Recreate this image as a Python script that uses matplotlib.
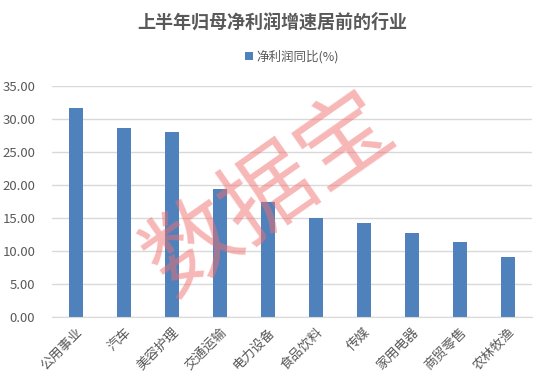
import matplotlib.pyplot as plt
import numpy as np

plt.rcParams['font.family'] = ['Noto Sans CJK SC', 'DejaVu Sans']

# data
industries = ['公用事业', '汽车', '美容护理', '交通运输', '电力设备',
              '食品饮料', '传媒', '家用电器', '商贸零售', '农林牧渔']
growth = [31.6, 28.7, 28.1, 19.4, 17.4, 15.0, 14.2, 12.7, 11.4, 9.1]
series_name = '净利润同比(%)'
title = '上半年归母净利润增速居前的行业'

grey = '#595959'
bar_color = '#4f81bd'

fig = plt.figure(figsize=(5.45, 3.8), dpi=100)
ax = fig.add_axes([52 / 545, 1 - 317 / 380, 480 / 545, 231 / 380])

x = np.arange(len(industries))
ax.bar(x, growth, width=0.31, color=bar_color, label=series_name, zorder=2)

ax.set_xlim(-0.5, len(industries) - 0.5)
ax.set_ylim(0, 35)
ax.set_yticks(np.arange(0, 35.1, 5))
ax.set_yticklabels(['%.2f' % v for v in np.arange(0, 35.1, 5)])
ax.set_xticks(x)
ax.set_xticklabels(industries, rotation=45, ha='right', rotation_mode='anchor')
ax.tick_params(axis='both', length=0, colors=grey, labelsize=9.5)
ax.tick_params(axis='y', pad=12)
ax.tick_params(axis='x', pad=6)

ax.grid(axis='y', color='#d9d9d9', linewidth=1, zorder=0)
for s in ['top', 'right', 'left']:
    ax.spines[s].set_visible(False)
ax.spines['bottom'].set_color('#d9d9d9')

fig.text(0.5, 1 - 22 / 380, title, ha='center', va='center',
         fontsize=13, fontweight='bold', color=grey)
ax.legend(loc='center', bbox_to_anchor=(0.5, (57 - 86) / -231 + 1),
          frameon=False, fontsize=9, labelcolor=grey, handlelength=0.6,
          handleheight=0.6, handletextpad=0.3)

# watermark
fig.text(270 / 545, 1 - 195 / 380, '数据宝', ha='center', va='center',
         fontsize=67, fontweight='medium', color='#f07070', alpha=0.5,
         rotation=35, zorder=5)

fig.savefig('out.png', dpi=100)
